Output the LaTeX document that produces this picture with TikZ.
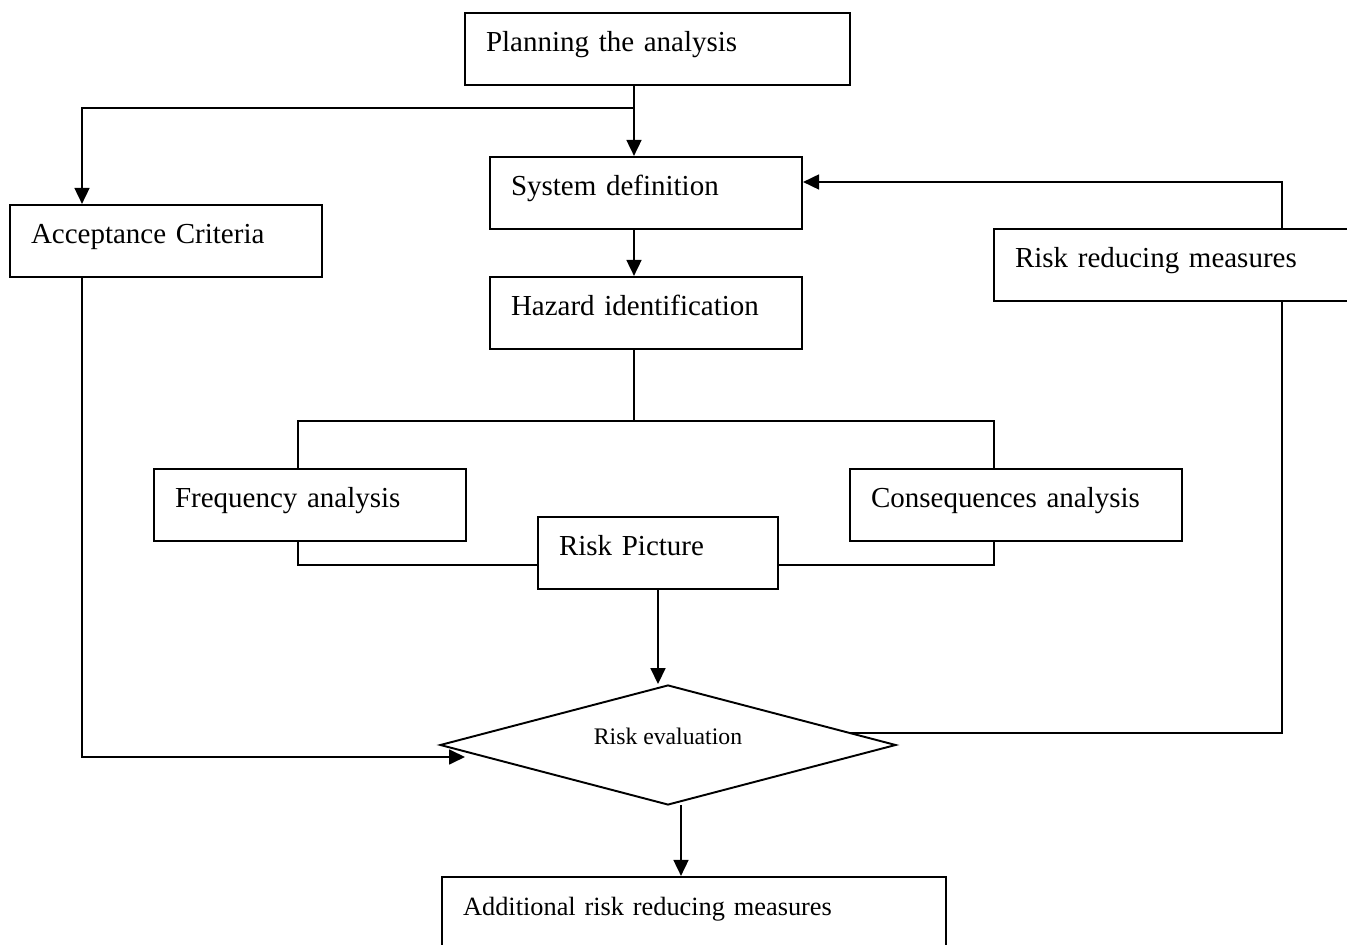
\documentclass[tikz,border=0pt]{standalone}
\usepackage{fontspec}
\setmainfont{Liberation Serif}
\usetikzlibrary{arrows.meta,shapes.geometric,calc}

\tikzset{
  box/.style={draw, line width=1.25pt, minimum height=1.44cm, inner xsep=0.42cm,
    inner ysep=0pt, align=left, text height=13.5pt, text depth=10.5pt,
    font=\fontsize{16.5}{20}\selectfont},
  link/.style={line width=1pt}
}

\begin{document}
\begin{tikzpicture}[x=0.02cm, y=-0.02cm, >={Triangle[length=0.32cm,width=0.3cm]}]
    \useasboundingbox (0,0) rectangle (1347,945);

    % Top of the chart
    \node[box, text width=6.86cm] (plan) at (657.5,49) {Planning the analysis};
    \node[box, text width=5.4cm] (sys) at (646,193) {System definition};
    \node[box, text width=5.4cm] (haz) at (646,313) {Hazard identification};
    \node[box, text width=5.4cm] (acc) at (166,241) {Acceptance Criteria};
    \node[box, text width=6.36cm] (rrm) at (1174,265) {Risk reducing measures};

    % Analysis row
    \node[box, text width=5.4cm] (freq) at (310,505) {Frequency analysis};
    \node[box, text width=5.8cm] (cons) at (1016,505) {Consequences analysis};
    \node[box, text width=3.96cm] (rp) at (658,553) {Risk Picture};

    % Evaluation
    \node[diamond, draw, line width=1.1pt, aspect=3.8, inner sep=0pt,
          minimum width=9.12cm, minimum height=2.4cm,
          text height=10pt, text depth=10pt,
          font=\fontsize{13.5}{16}\selectfont] (eval) at (668,745) {Risk evaluation};
    \node[box, text width=9.24cm, font=\fontsize{15}{18}\selectfont] (add) at (694,913) {Additional risk reducing measures};

    % Bends of the connectors
    \coordinate (top) at (634,108);
    \coordinate (split) at (634,421);
    \coordinate (ax) at (82,757);
    \coordinate (ein) at (465,757);
    \coordinate (eout) at (850,733);
    \coordinate (rx) at (1282,733);
    \coordinate (fx) at (298,565);
    \coordinate (cx) at (994,565);
    \coordinate (dx) at (681,805);

    % Edges between nodes
    \draw[link] (plan.south -| top) -- (top);
    \draw[link,->] (top) -- (sys.north -| top);
    \draw[link,->] (top) -| (acc.north -| ax);
    \draw[link,->] (sys.south -| top) -- (haz.north -| top);

    \draw[link] (haz.south -| split) -- (split);
    \draw[link] (split) -| (freq.north -| fx);
    \draw[link] (split) -| (cons.north -| cx);
    \draw[link] (freq.south -| fx) -- (fx) -- (rp.west |- fx);
    \draw[link] (cons.south -| cx) -- (cx) -- (rp.east |- cx);

    \draw[link,->] (rp.south) -- (rp.south |- eval.north);
    \draw[link,->] (acc.south -| ax) -- (ax) -- (ein);
    \draw[link] (eout) -- (rx) -- (rrm.south -| rx);
    \draw[link,->] (rrm.north -| rx) |- ($(sys.east)+(0,-11)$);
    \draw[link,->] (dx) -- (add.north -| dx);
  \end{tikzpicture}
\end{document}
